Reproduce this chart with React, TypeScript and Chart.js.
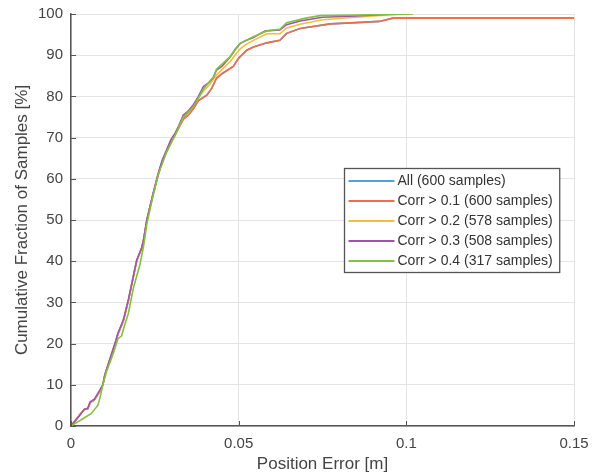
import { useEffect, useRef } from "react";
import { Chart, registerables } from "chart.js";

Chart.register(...registerables);

// ---- data ----
const xTickValues = [0, 0.05, 0.1, 0.15];
const yTickStep = 10;

const seriesLabels = [
  "All (600 samples)",
  "Corr > 0.1 (600 samples)",
  "Corr > 0.2 (578 samples)",
  "Corr > 0.3 (508 samples)",
  "Corr > 0.4 (317 samples)",
];

// All samples (identical to Corr > 0.1)
const errAll = [
  0, 0.0015, 0.0025, 0.0040, 0.005, 0.0057, 0.007, 0.0086, 0.0095, 0.0101, 0.0115, 0.0131, 0.014,
  0.0156, 0.0171, 0.018, 0.0196, 0.021, 0.0216, 0.0226, 0.0235, 0.0245, 0.026, 0.0272, 0.0285,
  0.0298, 0.031, 0.0322, 0.0335, 0.035, 0.0365, 0.038, 0.0405, 0.042, 0.0434, 0.045, 0.0484,
  0.05, 0.0524, 0.0544, 0.0584, 0.0623, 0.0643, 0.0683, 0.0773, 0.085, 0.092, 0.096, 0.1, 0.15,
];
const cdfAll = [
  0, 1.5, 2.6, 4.0, 4.2, 5.6, 6.4, 8.4, 10, 12.4, 15.8, 19.8, 22.3, 25.5, 30.4, 34, 40.1, 43,
  45, 49.8, 53, 56.3, 61, 64.2, 66.6, 69, 70.6, 72.5, 74.5, 75.5, 77, 79, 80.3, 82, 84.4, 85.5,
  87.3, 89.3, 91.2, 92, 93, 93.6, 95.3, 96.5, 97.6, 97.9, 98.2, 99, 99, 99,
];

const errCorr01 = errAll;
const cdfCorr01 = cdfAll;

const errCorr02 = [
  0, 0.0015, 0.0025, 0.0040, 0.005, 0.0057, 0.007, 0.0086, 0.0095, 0.0101, 0.0115, 0.0131, 0.014,
  0.0156, 0.0171, 0.018, 0.0196, 0.021, 0.0216, 0.0226, 0.0235, 0.0245, 0.026, 0.0272, 0.0285,
  0.0298, 0.031, 0.0322, 0.0335, 0.035, 0.0365, 0.038, 0.0395, 0.041, 0.0434, 0.045, 0.0474,
  0.0504, 0.052, 0.0544, 0.0584, 0.0623, 0.0643, 0.0683, 0.075, 0.09, 0.1,
];
const cdfCorr02 = [
  0, 1.6, 2.7, 4.0, 4.2, 5.7, 6.5, 8.5, 10, 12.5, 15.9, 19.9, 22.4, 25.6, 30.5, 34, 40.2, 43,
  45, 49.9, 53, 56.4, 61.2, 64.4, 66.8, 69.3, 70.9, 72.8, 75, 76, 77.6, 79.6, 81.3, 82.5, 85.2,
  86.5, 88.4, 91.5, 92.5, 93.6, 95.2, 95.2, 96.6, 97.5, 98.6, 99.5, 100,
];

const errCorr03 = [
  0, 0.0015, 0.0025, 0.0040, 0.005, 0.0057, 0.007, 0.0086, 0.0095, 0.0101, 0.0115, 0.0131, 0.014,
  0.0156, 0.0171, 0.018, 0.0196, 0.021, 0.0216, 0.0226, 0.0235, 0.0245, 0.026, 0.0272, 0.0285,
  0.0298, 0.031, 0.0322, 0.0335, 0.035, 0.0365, 0.038, 0.0395, 0.041, 0.0424, 0.0434, 0.045,
  0.0474, 0.049, 0.0504, 0.052, 0.0544, 0.058, 0.0623, 0.0643, 0.0683, 0.075, 0.085, 0.096,
];
const cdfCorr03 = [
  0, 1.5, 2.5, 4.1, 4.3, 5.9, 6.5, 8.7, 10, 12.4, 16, 20, 22.5, 25.7, 30.6, 34, 40.3, 43, 45, 50,
  53, 56.5, 61.3, 64.5, 67, 69.5, 71, 73, 75.5, 76.5, 78, 80, 82.4, 83.3, 84.5, 86.4, 87.3, 89.5,
  91.5, 92.8, 93.5, 94.3, 95.9, 96.1, 97.4, 98.3, 99.2, 99.5, 100,
];

const errCorr04 = [
  0, 0.002, 0.004, 0.006, 0.008, 0.0086, 0.0095, 0.0105, 0.0126, 0.014, 0.0151, 0.016, 0.0171,
  0.0186, 0.0205, 0.0216, 0.0226, 0.0245, 0.026, 0.0285, 0.031, 0.0335, 0.0365, 0.0395, 0.0424,
  0.0434, 0.0474, 0.0504, 0.0544, 0.0584, 0.0623, 0.0643, 0.07, 0.0743, 0.09, 0.102,
];
const cdfCorr04 = [
  0, 1, 2, 3, 5, 6.7, 10, 13, 17.6, 21.2, 21.9, 24.5, 27.3, 33.5, 39, 43.4, 49, 56, 61, 66.5,
  70.5, 75, 77.5, 81.8, 84.6, 86.6, 89.6, 92.8, 94.5, 95.9, 96.3, 97.9, 99, 99.6, 99.8, 100,
];

const seriesErr = [errAll, errCorr01, errCorr02, errCorr03, errCorr04];
const seriesCdf = [cdfAll, cdfCorr01, cdfCorr02, cdfCorr03, cdfCorr04];

// ---- styles ----
const lineColors = ["#4DA3DF", "#EE6E4A", "#F2BE3C", "#A052AE", "#82C043"];
const FONT = '"Liberation Sans", Arial, Helvetica, sans-serif';
const TEXT = "#444444";

const insideLegend = {
  id: "insideLegend",
  afterDraw(chart: any) {
    const { ctx, chartArea } = chart;
    const ds = chart.data.datasets;
    ctx.save();
    // inward tick marks
    ctx.strokeStyle = "#555";
    ctx.lineWidth = 1;
    const xs = chart.scales.x;
    const ys = chart.scales.y;
    xTickValues.forEach((v) => {
      const px = Math.round(xs.getPixelForValue(v)) + 0.5;
      ctx.beginPath();
      ctx.moveTo(px, chartArea.bottom);
      ctx.lineTo(px, chartArea.bottom - 5);
      ctx.stroke();
    });
    for (let v = 0; v <= 100; v += yTickStep) {
      const py = Math.round(ys.getPixelForValue(v)) + 0.5;
      ctx.beginPath();
      ctx.moveTo(chartArea.left, py);
      ctx.lineTo(chartArea.left + 5, py);
      ctx.stroke();
    }
    // legend
    ctx.font = "14px " + FONT;
    const textW = Math.max(...ds.map((d: any) => ctx.measureText(d.label).width));
    const rowH = 20;
    const lineLen = 46;
    const w = 4 + lineLen + 3 + textW + 7;
    const h = rowH * ds.length + 4;
    const x0 = Math.round(chartArea.right - 15 - w) + 0.5;
    const y0 = Math.round((chartArea.top + chartArea.bottom) / 2 - h / 2) + 0.5;
    ctx.fillStyle = "#ffffff";
    ctx.fillRect(x0, y0, w, h);
    ctx.strokeStyle = "#555";
    ctx.lineWidth = 1.3;
    ctx.strokeRect(x0, y0, w, h);
    ds.forEach((d: any, i: number) => {
      const cy = y0 + 12.5 + i * rowH;
      ctx.strokeStyle = d.borderColor;
      ctx.lineWidth = 1.8;
      ctx.beginPath();
      ctx.moveTo(x0 + 4, cy);
      ctx.lineTo(x0 + 4 + lineLen, cy);
      ctx.stroke();
      ctx.fillStyle = "#333";
      ctx.textBaseline = "middle";
      ctx.textAlign = "left";
      ctx.fillText(d.label, x0 + 4 + lineLen + 3, cy);
    });
    ctx.restore();
  },
};

export default function App() {
  const ref = useRef<HTMLCanvasElement | null>(null);

  useEffect(() => {
    if (!ref.current) return;
    const datasets = seriesLabels.map((label, i) => ({
      label,
      data: seriesErr[i].map((x, j) => ({ x, y: seriesCdf[i][j] })),
      borderColor: lineColors[i],
      backgroundColor: lineColors[i],
      borderWidth: 1.6,
      pointRadius: 0,
      tension: 0,
      fill: false,
      order: seriesLabels.length - i,
    }));
    const chart = new Chart(ref.current, {
      type: "line",
      data: { datasets },
      plugins: [insideLegend],
      options: {
        responsive: false,
        animation: false,
        layout: { padding: { top: 14, right: 20, left: 0, bottom: 0 } },
        plugins: { legend: { display: false }, tooltip: { enabled: false } },
        scales: {
          x: {
            type: "linear",
            min: 0,
            max: 0.15,
            afterBuildTicks: (s: any) => {
              s.ticks = xTickValues.map((v) => ({ value: v }));
            },
            afterFit: (s: any) => {
              s.height = 50;
              s.paddingLeft = 0;
              s.paddingRight = 0;
            },
            ticks: {
              padding: 9,
              color: TEXT,
              font: { size: 15, family: FONT },
              maxRotation: 0,
              callback: (v: any) => String(Number(Number(v).toFixed(3))),
            },
            grid: { color: "#e4e4e4", lineWidth: 1, drawTicks: false },
            border: { color: "#555", width: 1.5 },
            title: {
              display: true,
              text: "Position Error [m]",
              color: TEXT,
              font: { size: 17, family: FONT },
              padding: { top: 0, bottom: 1 },
            },
          },
          y: {
            type: "linear",
            min: 0,
            max: 100,
            afterFit: (s: any) => {
              s.width = 71;
              s.paddingTop = 0;
              s.paddingBottom = 0;
            },
            ticks: {
              stepSize: yTickStep,
              padding: 8,
              color: TEXT,
              font: { size: 15, family: FONT },
            },
            grid: { color: "#e4e4e4", lineWidth: 1, drawTicks: false },
            border: { color: "#555", width: 1.5 },
            title: {
              display: true,
              text: "Cumulative Fraction of Samples [%]",
              color: TEXT,
              font: { size: 17, family: FONT },
              padding: { top: 12, bottom: 0 },
            },
          },
        },
      },
    });
    return () => chart.destroy();
  }, []);

  return (
    <div style={{ position: "fixed", left: 0, top: 0, width: 594, height: 476, background: "#fff" }}>
      <canvas ref={ref} width={594} height={476} style={{ width: 594, height: 476 }} />
    </div>
  );
}
